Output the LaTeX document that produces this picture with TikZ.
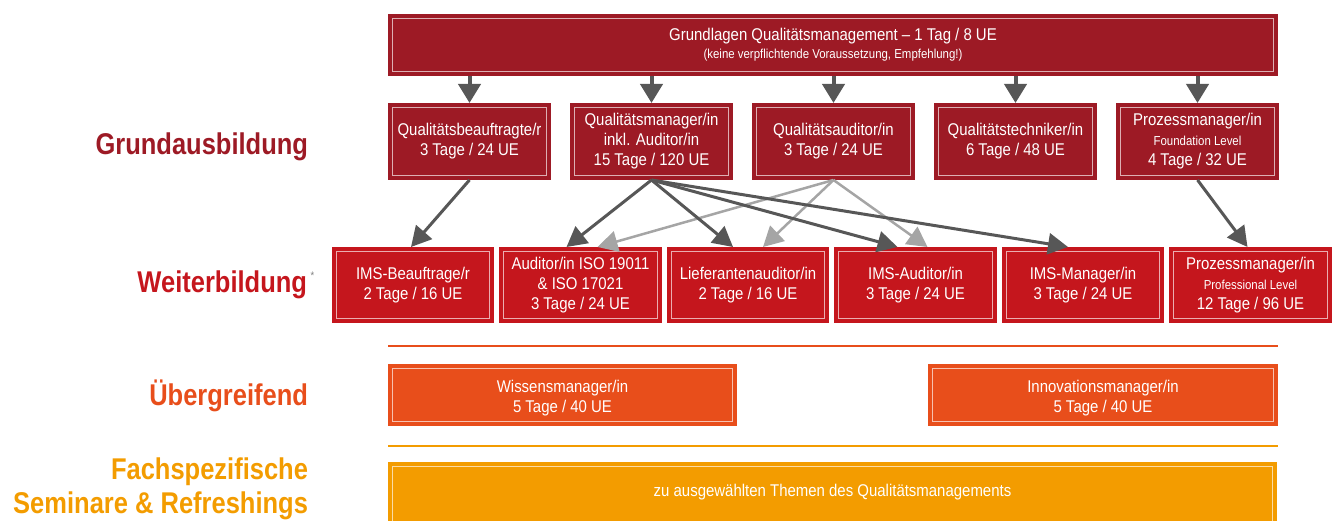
\documentclass[tikz,border=0pt]{standalone}
\usepackage{fontspec}
\setmainfont[FakeStretch=0.88]{Liberation Sans}
\newfontfamily{\ebenenfont}[FakeStretch=0.85]{Liberation Sans}
\usepackage{tikz}
\usetikzlibrary{arrows.meta}
\usetikzlibrary{positioning}

\definecolor{grundrot}{HTML}{9D1A25}
\definecolor{weiterrot}{HTML}{C5161D}
\definecolor{uebergreif}{HTML}{E84E1B}
\definecolor{fachorange}{HTML}{F39C00}
\definecolor{pfeilgrau}{HTML}{575757}
\definecolor{pfeilhell}{HTML}{A5A5A5}
\newcommand{\kursfont}{\fontsize{17}{20}\selectfont}
\newcommand{\kleinfont}{\fontsize{13}{20}\selectfont}

\begin{document}
\begin{tikzpicture}[
            x=1pt, y=1pt,
            every node/.style={rectangle,inner sep=0pt,outer sep=0pt,text=white,align=center,font=\kursfont},
            kurs/.style={fill=#1, minimum width=163pt, minimum height=77pt,
                path picture={\draw[white!65!#1, line width=0.9pt]
                    ([shift={(4.5pt,4.5pt)}]path picture bounding box.south west) rectangle
                    ([shift={(-4.5pt,-4.5pt)}]path picture bounding box.north east);}},
            ebene/.style={anchor=base east, text=#1, align=right,
                font=\ebenenfont\fontsize{30}{34}\selectfont\bfseries}
        ]
        \tikzset{>={Triangle[length=20pt,width=21pt]}}
        \tikzset{pfeil/.style={draw=pfeilgrau,line width=3pt,->}}
        \tikzset{pfeil hell/.style={draw=pfeilhell,line width=2.5pt,->}}
        \tikzset{start pfeil/.style={draw=pfeilgrau,line width=4pt,-{Triangle[length=19pt,width=22pt]}}}
        \useasboundingbox (0,0) rectangle (1333,520);
        \clip (0,0) rectangle (1333,520);

        % Ebenen links
        \node[ebene=grundrot] (grund label) at (308,365) {Grundausbildung};
        \node[ebene=weiterrot] (weiter label) at (307,227) {Weiterbildung\rlap{\raisebox{14pt}{\fontsize{11}{11}\selectfont\mdseries\color{gray}\,\,*}}};
        \node[ebene=uebergreif] (ueber label) at (308,115) {Übergreifend};
        \node[ebene=fachorange] (fach label) at (308,7) {Fachspezifische\\Seminare \& Refreshings};

        % Grundlagen
        \node[kurs=grundrot, minimum width=890pt, minimum height=62pt] (grundlagen node) at (833,475)
            {Grundlagen Qualitätsmanagement -- 1 Tag / 8 UE\\[-2pt]{\fontsize{13}{16}\selectfont (keine verpflichtende Voraussetzung, Empfehlung!)}};

        % Grundausbildung
        \node[kurs=grundrot] (beauftragte node) at (469.5,378.5) {Qualitätsbeauftragte/r\\3 Tage / 24 UE};
        \node[kurs=grundrot, right=19pt of beauftragte node] (manager node) {Qualitätsmanager/in\\inkl. Auditor/in\\15 Tage / 120 UE};
        \node[kurs=grundrot, right=19pt of manager node] (auditor node) {Qualitätsauditor/in\\3 Tage / 24 UE};
        \node[kurs=grundrot, right=19pt of auditor node] (techniker node) {Qualitätstechniker/in\\6 Tage / 48 UE};
        \node[kurs=grundrot, right=19pt of techniker node] (prozess node) {Prozessmanager/in\\{\kleinfont Foundation Level}\\4 Tage / 32 UE};

        % Weiterbildung
        \node[kurs=weiterrot, minimum width=162.5pt, minimum height=76pt] (ims beauftragte node) at (413,235) {IMS-Beauftrage/r\\2 Tage / 16 UE};
        \node[kurs=weiterrot, minimum width=162.5pt, minimum height=76pt, right=5pt of ims beauftragte node] (iso node) {Auditor/in ISO 19011\\\& ISO 17021\\3 Tage / 24 UE};
        \node[kurs=weiterrot, minimum width=162.5pt, minimum height=76pt, right=5pt of iso node] (lieferanten node) {Lieferantenauditor/in\\2 Tage / 16 UE};
        \node[kurs=weiterrot, minimum width=162.5pt, minimum height=76pt, right=5pt of lieferanten node] (ims auditor node) {IMS-Auditor/in\\3 Tage / 24 UE};
        \node[kurs=weiterrot, minimum width=162.5pt, minimum height=76pt, right=5pt of ims auditor node] (ims manager node) {IMS-Manager/in\\3 Tage / 24 UE};
        \node[kurs=weiterrot, minimum width=162.5pt, minimum height=76pt, right=5pt of ims manager node] (prozess pro node) {Prozessmanager/in\\{\kleinfont Professional Level}\\12 Tage / 96 UE};

        % Trennlinien
        \draw[uebergreif, line width=1.2pt] (388,174) -- (1278,174);
        \draw[fachorange, line width=1.2pt] (388,74) -- (1278,74);

        % Uebergreifend und Fachspezifisch
        \node[kurs=uebergreif, minimum width=349pt, minimum height=62pt, text height=39pt] (wissen node) at (562.5,125) {Wissensmanager/in\\5 Tage / 40 UE};
        \node[kurs=uebergreif, minimum width=350pt, minimum height=62pt, text height=39pt] (innovation node) at (1103,125) {Innovationsmanager/in\\5 Tage / 40 UE};
        \node[kurs=fachorange, minimum width=889pt, minimum height=80pt] (fach node) at (832.5,18) {};
        \node[below=22pt of fach node.north, font=\fontsize{17}{20}\selectfont] (fach text) {zu ausgewählten Themen des Qualitätsmanagements};

        % Pfeile
        \foreach \ziel in {beauftragte node, manager node, auditor node, techniker node, prozess node}
            \draw[start pfeil] (grundlagen node.south -| \ziel.north) -- (\ziel.north);
        \draw[pfeil hell] (auditor node.south) -- ([xshift=17pt]iso node.north);
        \draw[pfeil hell] (auditor node.south) -- ([xshift=15pt]lieferanten node.north);
        \draw[pfeil hell] (auditor node.south) -- ([xshift=12pt]ims auditor node.north);
        \draw[pfeil] (beauftragte node.south) -- ([xshift=-2pt]ims beauftragte node.north);
        \draw[pfeil] (manager node.south) -- ([xshift=-14pt]iso node.north);
        \draw[pfeil] (manager node.south) -- ([xshift=-15pt]lieferanten node.north);
        \draw[pfeil] (manager node.south) -- ([xshift=-18pt]ims auditor node.north);
        \draw[pfeil] (manager node.south) -- ([xshift=-15pt]ims manager node.north);
        \draw[pfeil] (prozess node.south) -- ([xshift=-3pt]prozess pro node.north);
    \end{tikzpicture}
\end{document}
